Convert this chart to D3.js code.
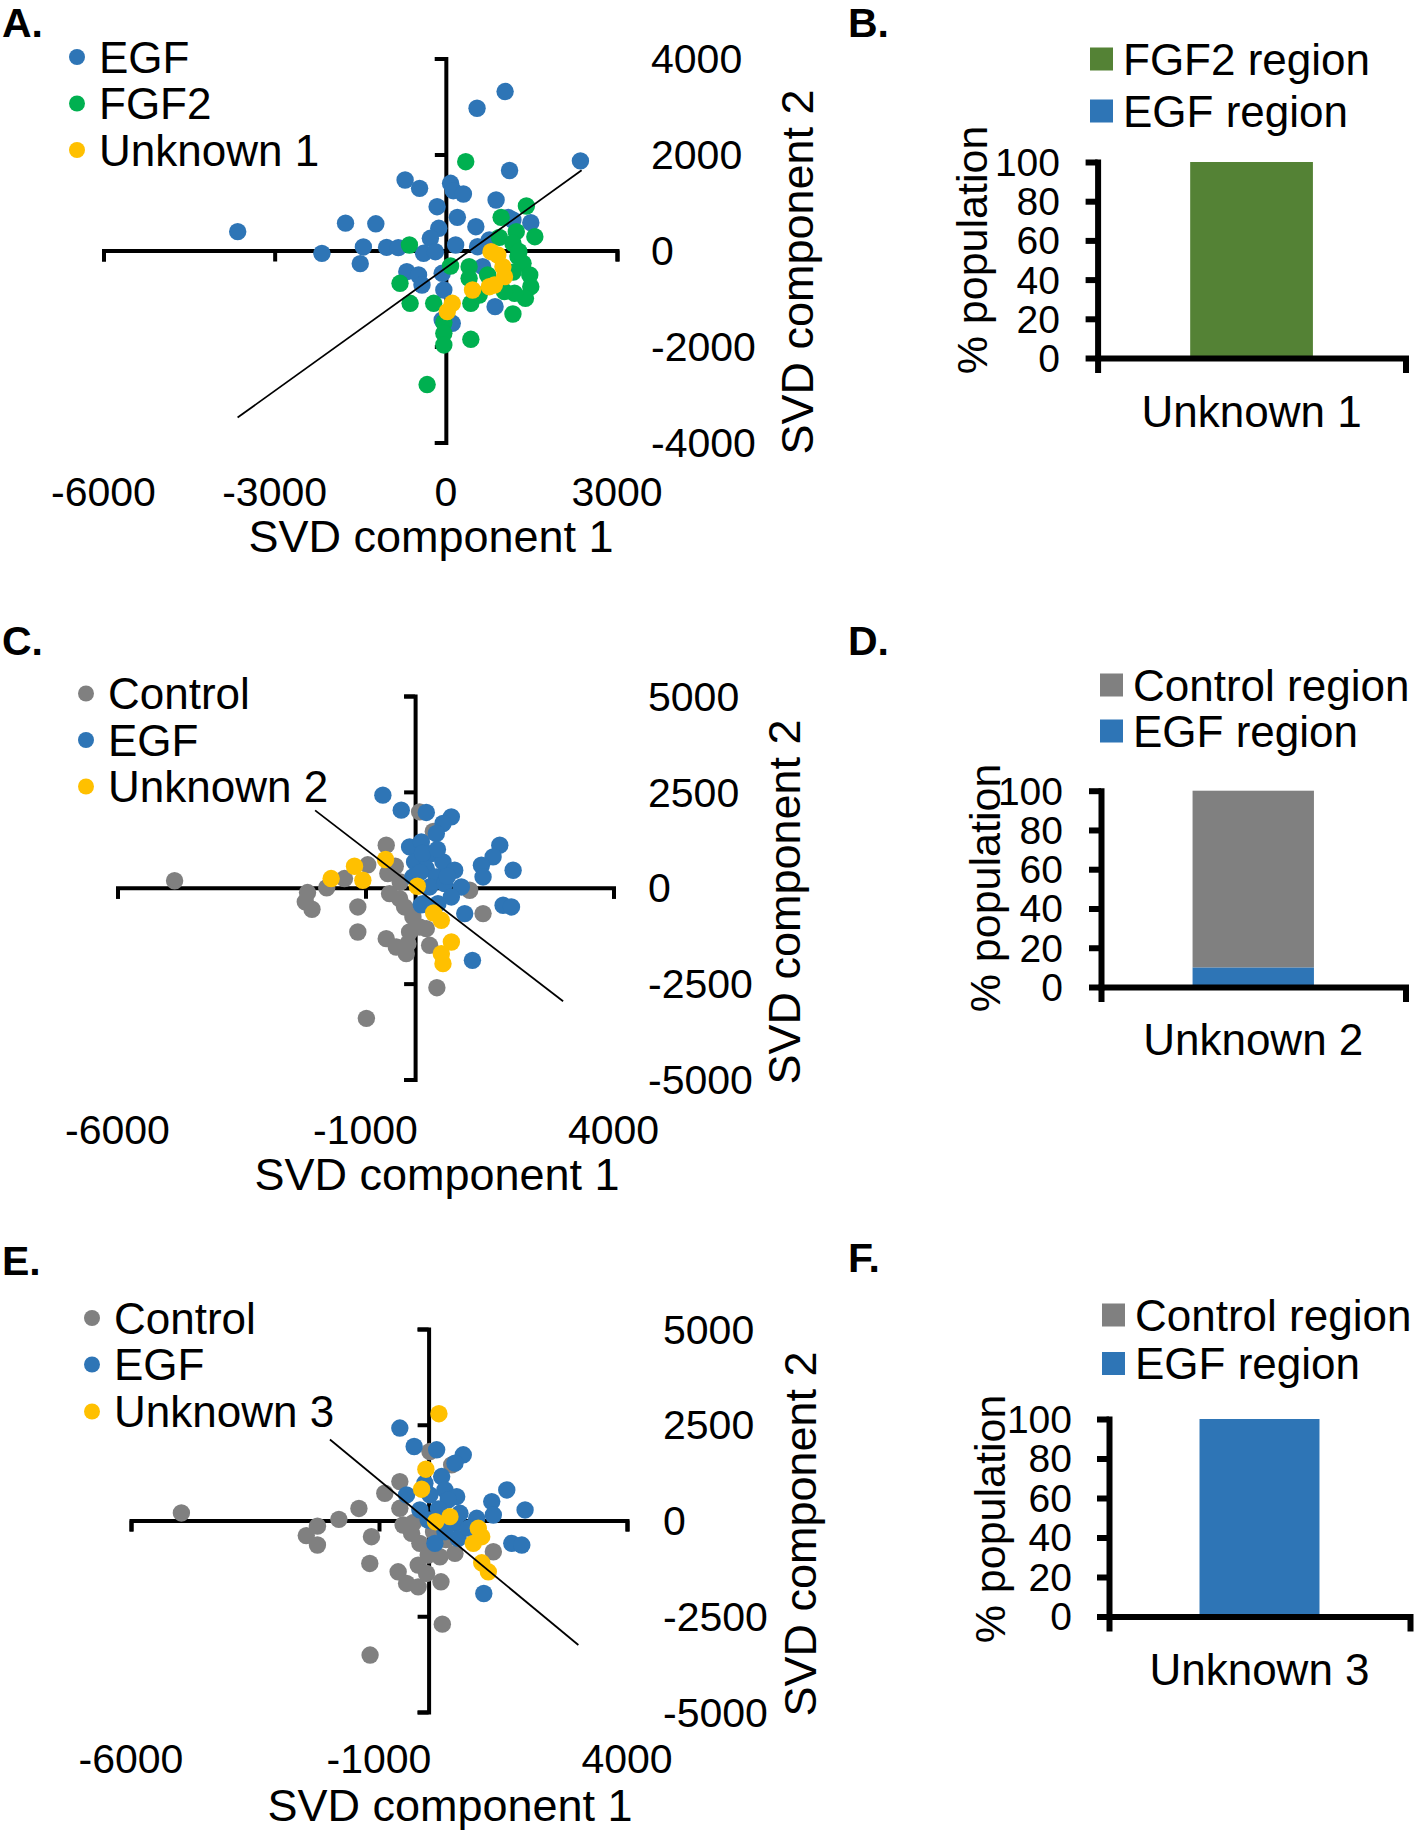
<!DOCTYPE html>
<html><head><meta charset="utf-8">
<script src="https://cdn.jsdelivr.net/npm/d3@7"></script>
<style>
html,body{margin:0;padding:0;background:#fff;}
svg{display:block;font-family:"Liberation Sans",Arial,Helvetica,sans-serif;}
</style></head><body>
<svg id="chart" width="1416" height="1831"></svg>
<script>
// ---------- DATA ----------
// Panel A: SVD component 1 / 2
const aEGF = [[1039,3311],[547,2963],[2359,1867],[1117,1667],[-714,1469],[-460,1295],[83,1400],[131,1246],[308,1177],[-153,913],[881,1052],[202,691],[526,496],[1094,689],[1489,580],[-1758,570],[-1227,556],[-3648,393],[-124,462],[-271,254],[172,115],[-1038,66],[-833,60],[-1445,74],[-2172,-59],[-1500,-274],[-390,-58],[-183,-25],[556,79],[762,219],[-684,-441],[-478,-510],[-418,-719],[-64,-475],[-35,-823],[645,-337],[863,-1170],[-64,-1448],[113,-1517],[1176,635]];
const aFGF2 = [[349,1850],[1412,927],[969,691],[1235,392],[1560,288],[939,274],[-638,115],[83,-323],[408,-337],[408,-580],[1176,150],[1265,-129],[1353,-267],[1471,-510],[1489,-754],[1395,-996],[1205,-892],[1028,-857],[-803,-683],[-626,-1100],[-213,-1100],[438,-1100],[585,-927],[1176,-1323],[-35,-1500],[-35,-1725],[-35,-1968],[438,-1850],[-328,-2793],[733,-510],[1280,-20],[1180,-450]];
const aUnknown1 = [[792,-25],[911,-94],[1000,-337],[1028,-545],[851,-719],[762,-754],[468,-823],[113,-1100],[25,-1274]];
const aLine = [[-3650,-3480],[2380,1670]];
const aXTicks = [-6000,-3000,0,3000];
const aYTicks = [-4000,-2000,0,2000,4000];

// Panel C
const cControl = [[-4849,183],[91,1979],[367,1467],[-582,1110],[-955,598],[-1424,240],[-1782,0],[-2169,-125],[-2214,-367],[-2079,-560],[-1155,-501],[-1155,-1154],[-549,371],[-515,-152],[-313,-283],[-212,-501],[-44,-762],[91,-1024],[-111,-1154],[-145,-1457],[-380,-1546],[-582,-1327],[-178,-1718],[293,-1501],[226,-1066],[1101,-65],[1370,-674],[439,-2606],[-982,-3406],[-400,560],[-300,150]];
const cEGF = [[-650,2415],[-279,2023],[226,1963],[731,1849],[562,1675],[428,1415],[1707,1110],[1572,804],[1337,587],[1370,282],[1976,457],[-111,1065],[125,1196],[327,893],[562,674],[798,457],[-10,674],[226,501],[428,282],[-44,282],[293,21],[596,110],[933,21],[731,-240],[461,-413],[158,-413],[1000,-674],[1774,-457],[1943,-501],[1156,-1893],[124,-444],[150,900],[450,1000],[650,300],[100,400]];
const cUnknown2 = [[-1222,561],[-1054,196],[-1693,240],[-596,736],[44,39],[374,-658],[529,-849],[731,-1415],[529,-1718],[562,-1979]];
const cLine = [[-2016,2017],[2984,-2960]];
const cXTicks = [-6000,-1000,4000];
const cYTicks = [-5000,-2500,0,2500,5000];

// Panel E
const eControl = [[-4984,197],[-2241,-148],[-2466,-394],[-2241,-640],[-1809,30],[-1405,315],[-883,712],[-580,1016],[-580,319],[26,1801],[465,1453],[-1152,-423],[-1186,-1121],[-513,-118],[-343,-336],[-176,-597],[-8,-903],[-210,-1165],[-614,-1340],[-444,-1644],[-210,-1733],[-40,-1382],[249,-1601],[228,-947],[531,-859],[1305,-816],[277,-2706],[-1180,-3513],[-300,-50],[100,-300],[350,-500]];
const eEGF = [[-580,2414],[-291,1932],[162,1846],[699,1715],[531,1497],[263,1148],[329,798],[566,623],[396,537],[-75,974],[26,668],[-444,668],[1576,798],[1273,493],[1305,144],[1945,275],[1677,-597],[1879,-641],[-176,275],[-8,13],[970,57],[632,188],[531,-74],[598,-466],[127,-597],[1113,-1906],[329,-293],[200,300],[800,-200]];
const eUnknown3 = [[208,2788],[-55,1340],[-141,817],[141,-31],[430,100],[1002,-204],[1071,-423],[901,-597],[1071,-1105],[1204,-1340]];
const eLine = [[-1989,2116],[3020,-3250]];
const eXTicks = [-6000,-1000,4000];
const eYTicks = [-5000,-2500,0,2500,5000];

// Bar panels (% population)
const barYTicks = [0,20,40,60,80,100];
const bCategories = ["Unknown 1"];
const bFGF2Region = [100];
const bEGFRegion = [0];
const dCategories = ["Unknown 2"];
const dEGFRegion = [10];
const dControlRegion = [90];
const fCategories = ["Unknown 3"];
const fEGFRegion = [100];
const fControlRegion = [0];

// ---------- DRAWING ----------
const C = {blue:"#2E75B6", green:"#00B050", yellow:"#FFC000", gray:"#808080", barGreen:"#548235"};
const svg = d3.select("#chart");

function capText(g, x, y, str, size, anchor, weight){
  return g.append("text").attr("x", x).attr("y", y + 0.358*size)
    .attr("font-size", size).attr("text-anchor", anchor || "start")
    .attr("font-weight", weight || "normal").attr("fill", "#000").text(str);
}
function rotText(g, x, y, str, size){
  return g.append("text").attr("transform", `translate(${x},${y}) rotate(-90)`)
    .attr("x", 0).attr("y", 0.358*size).attr("font-size", size)
    .attr("text-anchor", "middle").attr("fill", "#000").text(str);
}

function scatter(cfg){
  const g = svg.append("g");
  const x = d3.scaleLinear().domain(cfg.xDom).range(cfg.xRange);
  const y = d3.scaleLinear().domain(cfg.yDom).range(cfg.yRange);
  const ax = g.append("g").attr("transform", `translate(0,${y(0)})`)
    .call(d3.axisBottom(x).tickValues(cfg.xTicks).tickSize(11).tickSizeOuter(11).tickFormat(""));
  const ay = g.append("g").attr("transform", `translate(${x(0)},0)`)
    .call(d3.axisLeft(y).tickValues(cfg.yTicks).tickSize(11).tickSizeOuter(11).tickFormat(""));
  [ax, ay].forEach(a => {
    a.selectAll("path").attr("stroke", "#000").attr("stroke-width", 4).attr("fill", "none");
    a.selectAll("line").attr("stroke", "#000").attr("stroke-width", 4);
  });
  cfg.series.forEach(s => {
    g.append("g").selectAll("circle").data(s.data).join("circle")
      .attr("cx", d => x(d[0])).attr("cy", d => y(d[1])).attr("r", 8.7)
      .attr("fill", s.color);
  });
  g.append("line")
    .attr("x1", x(cfg.line[0][0])).attr("y1", y(cfg.line[0][1]))
    .attr("x2", x(cfg.line[1][0])).attr("y2", y(cfg.line[1][1]))
    .attr("stroke", "#000").attr("stroke-width", 1.8);
  cfg.xTicks.forEach(v => capText(g, x(v), cfg.xLabelY, String(v), 41, "middle"));
  cfg.yTicks.forEach(v => capText(g, cfg.yLabelX, y(v), String(v), 41, "start"));
  capText(g, cfg.xTitle[0], cfg.xTitle[1], "SVD component 1", 45, "middle");
  rotText(g, cfg.yTitle[0], cfg.yTitle[1], "SVD component 2", 45);
  cfg.series.forEach((s, i) => {
    g.append("circle").attr("cx", cfg.legX).attr("cy", cfg.legY[i]).attr("r", 8).attr("fill", s.color);
    capText(g, cfg.legX + 22, cfg.legY[i], s.name, 44, "start");
  });
  capText(g, 2, cfg.letterY, cfg.letter, 41, "start", "bold");
}

function bars(cfg){
  const g = svg.append("g");
  const x = d3.scaleBand().domain(cfg.categories).range(cfg.xRange).paddingInner(0.43).paddingOuter(0.43);
  const y = d3.scaleLinear().domain([0,100]).range(cfg.yRange);
  let base = cfg.categories.map(() => 0);
  cfg.stack.forEach(s => {
    g.append("g").selectAll("rect").data(cfg.categories).join("rect")
      .attr("x", c => x(c)).attr("width", x.bandwidth())
      .attr("y", (c, i) => y(base[i] + s.data[i]))
      .attr("height", (c, i) => y(base[i]) - y(base[i] + s.data[i]))
      .attr("fill", s.color);
    base = base.map((b, i) => b + s.data[i]);
  });
  const ay = g.append("g").attr("transform", `translate(${cfg.xRange[0]},0)`)
    .call(d3.axisLeft(y).tickValues(barYTicks).tickSize(12).tickSizeOuter(0).tickFormat(""));
  const ax = g.append("g").attr("transform", `translate(0,${y(0)})`)
    .call(d3.axisBottom(x).tickSize(0).tickSizeOuter(12).tickFormat(""));
  [ax, ay].forEach(a => {
    a.selectAll("path").attr("stroke", "#000").attr("stroke-width", 6).attr("fill", "none").attr("stroke-linecap", "square");
    a.selectAll("line").attr("stroke", "#000").attr("stroke-width", 6);
  });
  barYTicks.forEach(v => capText(g, cfg.yLabelX, y(v), String(v), 39, "end"));
  cfg.categories.forEach(c => capText(g, x(c) + x.bandwidth()/2, cfg.catLabelY, c, 44, "middle"));
  rotText(g, cfg.yTitle[0], cfg.yTitle[1], "% population", 43);
  cfg.legend.forEach((l, i) => {
    g.append("rect").attr("x", cfg.legX).attr("y", cfg.legY[i] - 11.5).attr("width", 23).attr("height", 23).attr("fill", l.color);
    capText(g, cfg.legX + 33, cfg.legY[i], l.name, 44, "start");
  });
  capText(g, 848, cfg.letterY, cfg.letter, 41, "start", "bold");
}

scatter({
  letter:"A.", letterY:22,
  xDom:[-6000,3000], xRange:[103.5,617], yDom:[-4000,4000], yRange:[442.5,58.5],
  xTicks:aXTicks, yTicks:aYTicks, line:aLine,
  series:[{name:"EGF",color:C.blue,data:aEGF},{name:"FGF2",color:C.green,data:aFGF2},{name:"Unknown 1",color:C.yellow,data:aUnknown1}],
  xLabelY:491, yLabelX:651, xTitle:[431,536], yTitle:[797,272],
  legX:77, legY:[57,103.5,150]
});
scatter({
  letter:"C.", letterY:640,
  xDom:[-6000,4000], xRange:[117.5,613.5], yDom:[-5000,5000], yRange:[1079.5,696],
  xTicks:cXTicks, yTicks:cYTicks, line:cLine,
  series:[{name:"Control",color:C.gray,data:cControl},{name:"EGF",color:C.blue,data:cEGF},{name:"Unknown 2",color:C.yellow,data:cUnknown2}],
  xLabelY:1129, yLabelX:648, xTitle:[437,1174], yTitle:[784,902],
  legX:86, legY:[693.5,740,786.5]
});
scatter({
  letter:"E.", letterY:1260,
  xDom:[-6000,4000], xRange:[131,627], yDom:[-5000,5000], yRange:[1712,1329],
  xTicks:eXTicks, yTicks:eYTicks, line:eLine,
  series:[{name:"Control",color:C.gray,data:eControl},{name:"EGF",color:C.blue,data:eEGF},{name:"Unknown 3",color:C.yellow,data:eUnknown3}],
  xLabelY:1758.5, yLabelX:663, xTitle:[450,1804.5], yTitle:[800,1534],
  legX:92, legY:[1318,1364.5,1411.5]
});

bars({
  letter:"B.", letterY:22, categories:bCategories,
  xRange:[1097.6,1405.5], yRange:[358,162],
  stack:[{color:C.blue,data:bEGFRegion},{color:C.barGreen,data:bFGF2Region}],
  legend:[{name:"FGF2 region",color:C.barGreen},{name:"EGF region",color:C.blue}],
  legX:1090, legY:[59,111], yLabelX:1060, catLabelY:411, yTitle:[972,250]
});
bars({
  letter:"D.", letterY:640, categories:dCategories,
  xRange:[1101,1405.5], yRange:[987,790.7],
  stack:[{color:C.blue,data:dEGFRegion},{color:C.gray,data:dControlRegion}],
  legend:[{name:"Control region",color:C.gray},{name:"EGF region",color:C.blue}],
  legX:1100, legY:[685,731], yLabelX:1063, catLabelY:1039, yTitle:[985,888]
});
bars({
  letter:"F.", letterY:1257, categories:fCategories,
  xRange:[1109,1410], yRange:[1616.5,1419],
  stack:[{color:C.blue,data:fEGFRegion},{color:C.gray,data:fControlRegion}],
  legend:[{name:"Control region",color:C.gray},{name:"EGF region",color:C.blue}],
  legX:1102, legY:[1315,1363.5], yLabelX:1072, catLabelY:1669, yTitle:[990,1519]
});
</script>
</body></html>
